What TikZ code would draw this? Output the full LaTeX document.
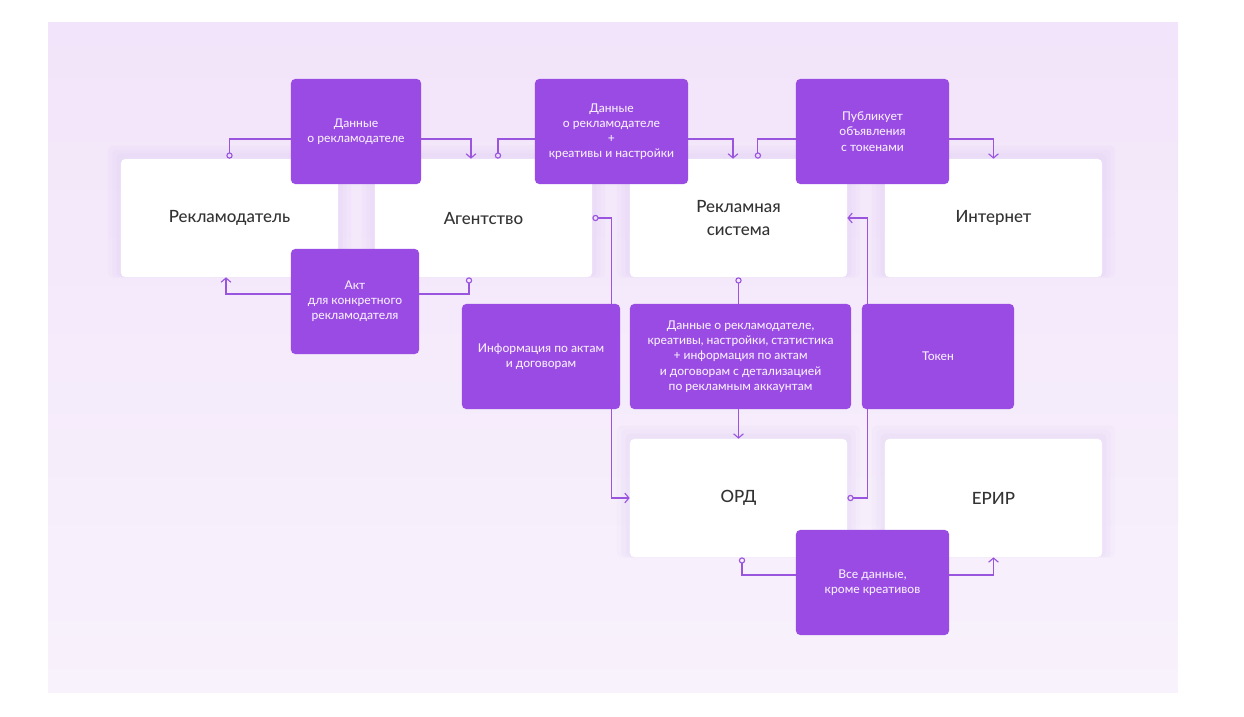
\documentclass[tikz,border=0pt]{standalone}
\usepackage{fontspec}
\IfFontExistsTF{Lato Medium}{\setmainfont{Lato Medium}}{\setmainfont{Lato}}
\usetikzlibrary{arrows.meta, shadows}

\definecolor{panelTop}{HTML}{F2E4FA}
\definecolor{panelBot}{HTML}{F8F2FC}
\definecolor{cardPurple}{HTML}{9A4BE3}
\definecolor{linePurple}{HTML}{9A55DE}
\definecolor{cardText}{HTML}{F6EDFF}
\definecolor{labelGray}{HTML}{333333}
\definecolor{glowPurple}{HTML}{C7A2EE}

\begin{document}
\begin{tikzpicture}[x=0.025cm, y=-0.025cm]
    \tikzstyle{glow} = [general shadow={fill=glowPurple, opacity=0.05, shadow scale=1.12, shadow yshift=4pt},
                        general shadow={fill=glowPurple, opacity=0.05, shadow scale=1.08, shadow yshift=3pt},
                        general shadow={fill=glowPurple, opacity=0.06, shadow scale=1.04, shadow yshift=2pt}]
    \tikzstyle{box} = [glow, fill=white, rounded corners=3pt, minimum width=5.425cm, minimum height=2.95cm,
                       align=center, text=labelGray, font=\fontsize{12}{16}\selectfont]
    \tikzstyle{card} = [fill=cardPurple, rounded corners=3pt, minimum height=2.625cm, inner sep=0pt,
                        align=center, text=cardText, font=\fontsize{8.6}{10.8}\selectfont]
    \tikzstyle{link} = [linePurple, line width=0.8pt]
    \tikzstyle{src} = [link, {Circle[open, length=4.5pt, width=4.5pt]}-]
    \tikzstyle{dst} = [link, -{Straight Barb[length=3pt, width=7pt]}]

    \useasboundingbox (0,0) rectangle (1244,717);
    \shade [top color=panelTop, bottom color=panelBot] (48,22) rectangle (1178,692);

    \foreach \name/\x/\y/\txt in {rek/229.5/218/Рекламодатель, ag/483.5/218/Агентство,
                                 rs/738.5/218/{Рекламная\\система}, inet/993.5/218/Интернет,
                                 ord/738.5/498/ОРД, erir/993.5/498/ЕРИР}
      \node [box] (\name) at (\x, \y) {\txt};

    % purple cards
    \node [card, minimum width=3.25cm] (p1) at (356, 131.5) {Данные\\о рекламодателе};
    \node [card, minimum width=3.2cm] (p2) at (355, 301.5) {Акт\\для конкретного\\рекламодателя};
    \node [card, minimum width=3.825cm] (p3) at (611.5, 131.5) {Данные\\о рекламодателе\\+\\креативы и настройки};
    \node [card, minimum width=3.825cm] (p4) at (872.5, 131.5) {Публикует\\объявления\\с токенами};
    \node [card, minimum width=3.95cm] (p5) at (541, 356.5) {Информация по актам\\и договорам};
    \node [card, minimum width=5.525cm] (p6) at (740.5, 356.5) {Данные о рекламодателе,\\креативы, настройки, статистика\\+ информация по актам\\и договорам с детализацией\\по рекламным аккаунтам};
    \node [card, minimum width=3.8cm] (p7) at (938, 356.5) {Токен};
    \node [card, minimum width=3.825cm] (p8) at (872.5, 582.5) {Все данные,\\кроме креативов};

    \draw [src] (rek.north) |- ([yshift=-5.3pt]p1.west);
    \draw [dst] ([yshift=-5.3pt]p1.east) -| ([xshift=-8.9pt]ag.north);
    \draw [src] ([xshift=10.3pt]ag.north) |- ([yshift=-5.3pt]p3.west);
    \draw [dst] ([yshift=-5.3pt]p3.east) -| ([xshift=-3.9pt]rs.north);
    \draw [src] ([xshift=13.8pt]rs.north) |- ([yshift=-5.3pt]p4.west);
    \draw [dst] ([yshift=-5.3pt]p4.east) -| (inet.north);
    \draw [src] ([xshift=-10.3pt]ag.south) |- ([yshift=5.3pt]p2.east);
    \draw [dst] ([yshift=5.3pt]p2.west) -| ([xshift=-2.5pt]rek.south);
    \draw [src] (ag.east) -| ([xshift=-6.4pt]p5.north east);
    \draw [dst] ([xshift=-6.4pt]p5.south east) |- (ord.west);
    \draw [src] (rs.south) -- (rs.south |- p6.north);
    \draw [dst] (p6.south -| ord.north) -- (ord.north);
    \draw [src] (ord.east) -| ([xshift=4.3pt]p7.south west);
    \draw [dst] ([xshift=4.3pt]p7.north west) |- (rs.east);
    \draw [src] ([xshift=2.5pt]ord.south) |- ([yshift=5.3pt]p8.west);
    \draw [dst] ([yshift=5.3pt]p8.east) -| (erir.south);
\end{tikzpicture}
\end{document}
